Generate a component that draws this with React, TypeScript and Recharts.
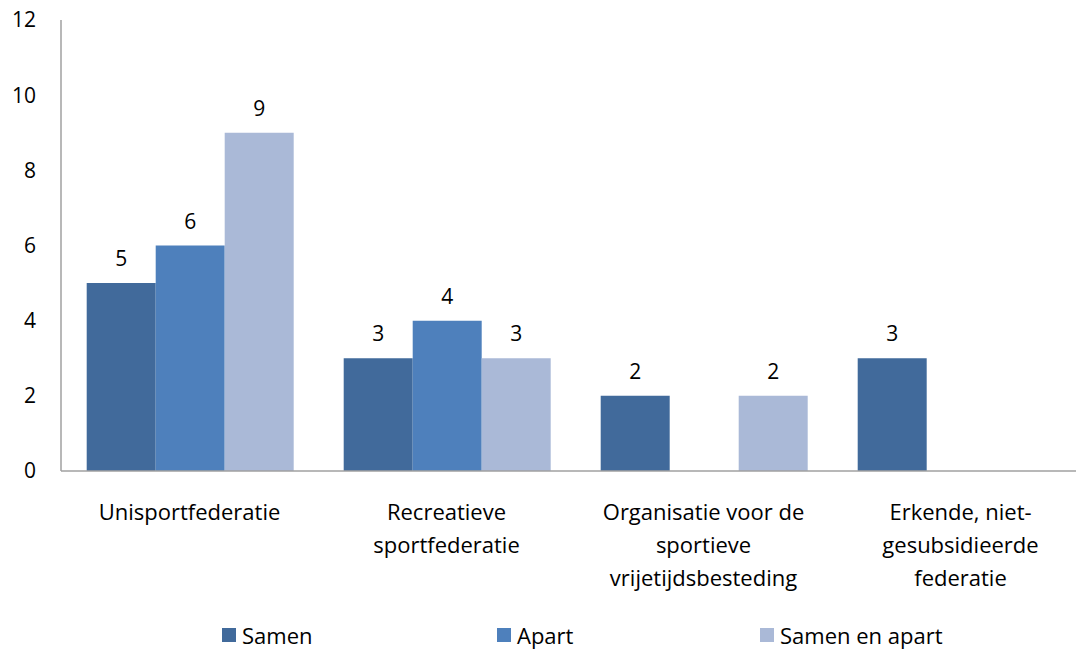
import React from 'react';
import { BarChart, Bar, XAxis, YAxis, Legend, LabelList } from 'recharts';

const categories = [
  'Unisportfederatie',
  'Recreatieve sportfederatie',
  'Organisatie voor de sportieve vrijetijdsbesteding',
  'Erkende, niet-gesubsidieerde federatie',
];
const categoryLines = [
  ['Unisportfederatie'],
  ['Recreatieve', 'sportfederatie'],
  ['Organisatie voor de', 'sportieve', 'vrijetijdsbesteding'],
  ['Erkende, niet-', 'gesubsidieerde', 'federatie'],
];
const samen = [5, 3, 2, 3];
const apart = [6, 4, null, null];
const samenEnApart = [9, 3, 2, null];
const yTicks = [0, 2, 4, 6, 8, 10, 12];

const series = [
  { key: 'samen', name: 'Samen', color: '#416A9B' },
  { key: 'apart', name: 'Apart', color: '#4E80BC' },
  { key: 'samenEnApart', name: 'Samen en apart', color: '#AAB9D7' },
];

const data = categories.map((c, i) => ({
  category: c,
  samen: samen[i],
  apart: apart[i],
  samenEnApart: samenEnApart[i],
}));

const FONT = '"Open Sans", Lato, sans-serif';

function CategoryTick({ x, y, index }: any) {
  const lines = categoryLines[index] || [];
  return (
    <g transform={`translate(${x},${y})`}>
      {lines.map((l, i) => (
        <text
          key={i}
          x={0}
          y={41 + i * 33}
          textAnchor="middle"
          fontSize={22}
          fontFamily={FONT}
          fill="#000"
        >
          {l}
        </text>
      ))}
    </g>
  );
}

function LegendContent() {
  const widths = [275, 263, 240];
  return (
    <div style={{ display: 'flex', fontFamily: FONT, fontSize: 22, color: '#000', lineHeight: '22px' }}>
      {series.map((s, i) => (
        <div key={s.key} style={{ display: 'flex', alignItems: 'center', width: widths[i] }}>
          <span style={{ width: 14, height: 14, background: s.color, marginRight: 6 }} />
          <span>{s.name}</span>
        </div>
      ))}
    </div>
  );
}

export default function App() {
  return (
    <div
      style={{
        position: 'absolute',
        left: 0,
        top: 0,
        width: 1076,
        height: 649,
        overflow: 'hidden',
        background: '#fff',
      }}
    >
      <BarChart
        width={1089}
        height={649}
        data={data}
        margin={{ top: 20, right: 0, bottom: 36, left: 0 }}
        barCategoryGap="10%"
        barGap={0}
      >
        <XAxis
          dataKey="category"
          tick={<CategoryTick />}
          tickLine={false}
          axisLine={{ stroke: '#A0A0A0', strokeWidth: 1.5 }}
          height={120}
          interval={0}
        />
        <YAxis
          domain={[0, 12]}
          ticks={yTicks}
          width={61}
          tickLine={false}
          tickSize={0}
          tickMargin={25}
          axisLine={{ stroke: '#A0A0A0', strokeWidth: 1.5 }}
          tick={{ fill: '#000', fontSize: 21, fontFamily: FONT }}
        />
        <Legend
          content={<LegendContent />}
          wrapperStyle={{ top: 624, left: 222, width: 800 }}
        />
        {series.map((s) => (
          <Bar
            key={s.key}
            dataKey={s.key}
            name={s.name}
            fill={s.color}
            isAnimationActive={false}
          >
            <LabelList
              dataKey={s.key}
              position="top"
              offset={17}
              fill="#000"
              fontSize={21}
              fontFamily={FONT}
            />
          </Bar>
        ))}
      </BarChart>
    </div>
  );
}
